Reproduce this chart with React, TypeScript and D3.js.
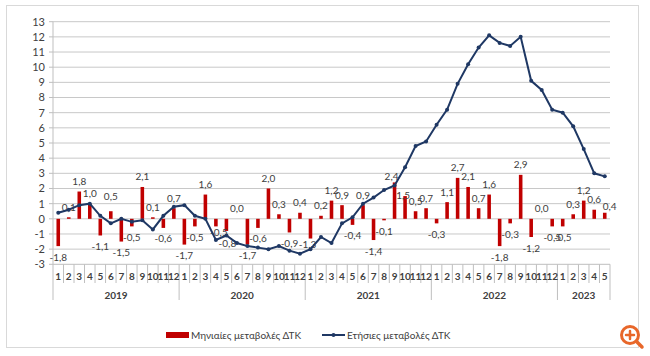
import React from "react";
import * as d3 from "d3";

const years = ["2019", "2020", "2021", "2022", "2023"];
const monthsPerYear = [12, 12, 12, 12, 5];

const monthly = [
  -1.8, 0.1, 1.8, 1.0, -1.1, 0.5, -1.5, -0.5, 2.1, 0.1, -0.6, 0.7,
  -1.7, -0.5, 1.6, -0.5, -0.8, 0.0, -1.7, -0.6, 2.0, 0.3, -0.9, 0.4,
  -1.3, 0.2, 1.2, 0.9, -0.4, 0.9, -1.4, -0.1, 2.4, 1.5, 0.5, 0.7,
  -0.3, 1.1, 2.7, 2.1, 0.7, 1.6, -1.8, -0.3, 2.9, -1.2, 0.0, -0.5,
  -0.5, 0.3, 1.2, 0.6, 0.4,
];

const annual = [
  0.4, 0.6, 0.9, 1.0, 0.2, -0.3, 0.0, -0.2, -0.1, -0.7, 0.2, 0.8,
  0.9, 0.2, 0.0, -1.4, -1.1, -1.6, -1.8, -1.9, -2.0, -1.8, -2.1, -2.3,
  -2.0, -1.2, -1.6, -0.3, 0.1, 1.0, 1.4, 1.9, 2.2, 3.4, 4.8, 5.1,
  6.2, 7.2, 8.9, 10.2, 11.3, 12.1, 11.6, 11.4, 12.0, 9.1, 8.5, 7.2,
  7.0, 6.1, 4.6, 3.0, 2.8,
];

const yTicks = d3.range(-3, 14, 1);

const seriesNames = ["Μηνιαίες μεταβολές ΔΤΚ", "Ετήσιες μεταβολές ΔΤΚ"];

// manual label nudges (as in the original, where a few labels were moved)
const labelNudge: Record<string, [number, number]> = {
  "2019-6": [0, -5],
  "2020-4": [3, -5],
  "2020-5": [1, 2],
  "2021-1": [-3, -5],
  "2021-9": [-3, 4],
  "2021-10": [-2, 9],
  "2023-5": [5, 4],
};

type Cat = { key: string; month: number; year: string };
const cats: Cat[] = [];
years.forEach((y, yi) => {
  for (let m = 1; m <= monthsPerYear[yi]; m++) cats.push({ key: `${y}-${m}`, month: m, year: y });
});

const fmt = (v: number) => d3.format(".1f")(v).replace(".", ",").replace("−", "-");

export default function App() {
  const W = 650, H = 356;
  const left = 53, right = 610, top = 21.7, bottom = 264.3;
  const x = d3.scaleBand<string>().domain(cats.map((c) => c.key)).range([left, right]).padding(0);
  const y = d3.scaleLinear().domain([-3, 13]).range([bottom, top]);
  const bw = x.bandwidth();
  const cx = (k: string) => (x(k) as number) + bw / 2;
  const barW = bw * 0.34;

  const line = d3
    .line<number>()
    .x((_, i) => cx(cats[i].key))
    .y((d) => y(d));

  const font = "Lato, 'Open Sans', sans-serif";
  const textCol = "#404040";

  let acc = 0;
  const yearGroups = years.map((yr, yi) => {
    const start = acc;
    acc += monthsPerYear[yi];
    return { yr, start, end: acc };
  });
  const xAt = (idx: number) => left + idx * bw;

  return (
    <svg width={W} height={H} style={{ position: "absolute", left: 0, top: 0 }}>
      <rect x={0} y={0} width={W} height={H} fill="#fff" />
      <rect x={6.5} y={5.5} width={632} height={342} fill="#fff" stroke="#d9d9d9" strokeWidth={1} />
      {yTicks.map((t) => (
        <line key={t} x1={left} x2={right} y1={y(t)} y2={y(t)} stroke={t === -3 ? "#bfbfbf" : "#c8c8c8"} strokeWidth={1} />
      ))}
      <line x1={left} x2={left} y1={top} y2={300} stroke="#bfbfbf" />
      {yTicks.map((t) => (
        <g key={"yt" + t}>
          <line x1={left - 4} x2={left} y1={y(t)} y2={y(t)} stroke="#bfbfbf" />
          <text x={45} y={y(t)} dy="0.35em" textAnchor="end" fontFamily={font} fontSize={11} fill={textCol}>
            {t}
          </text>
        </g>
      ))}
      {cats.map((c, i) =>
        i === 0 ? null : (
          <line key={"ms" + c.key} x1={xAt(i)} x2={xAt(i)} y1={bottom} y2={c.month === 1 ? 300 : 283} stroke="#bfbfbf" />
        )
      )}
      <line x1={right} x2={right} y1={bottom} y2={300} stroke="#bfbfbf" />
      {cats.map((c) => (
        <text key={"ml" + c.key} x={cx(c.key)} y={280} textAnchor="middle" fontFamily={font} fontSize={10} fontWeight="bold" fill={textCol}>
          {c.month}
        </text>
      ))}
      {yearGroups.map((g) => (
        <text key={g.yr} x={(xAt(g.start) + xAt(g.end)) / 2} y={298.5} textAnchor="middle" fontFamily={font} fontSize={10} fontWeight="bold" fill={textCol}>
          {g.yr}
        </text>
      ))}
      {monthly.map((v, i) => (
        <rect
          key={"b" + i}
          x={cx(cats[i].key) - barW / 2}
          y={Math.min(y(v), y(0))}
          width={barW}
          height={Math.max(Math.abs(y(v) - y(0)), v === 0 ? 0 : 0.5)}
          fill="#c00000"
        />
      ))}
      {monthly.map((v, i) => {
        const k = cats[i].key;
        const [dx, ddy] = labelNudge[k] || [0, 0];
        return (
          <text
            key={"bl" + i}
            x={cx(k) + dx}
            y={(v >= 0 ? y(v) - 10 : y(v) + 11) + ddy}
            dy="0.35em"
            textAnchor="middle"
            fontFamily={font}
            fontSize={10}
            fill={textCol}
          >
            {fmt(v)}
          </text>
        );
      })}
      <path d={line(annual) || ""} fill="none" stroke="#1f3864" strokeWidth={2} />
      {annual.map((v, i) => (
        <circle key={"p" + i} cx={cx(cats[i].key)} cy={y(v)} r={2} fill="#1f3864" />
      ))}
      <rect x={166} y={332} width={23} height={6} fill="#c00000" />
      <text x={191} y={335} dy="0.35em" fontFamily={font} fontSize={10} fill={textCol}>
        {seriesNames[0]}
      </text>
      <line x1={322} x2={345} y1={335} y2={335} stroke="#1f3864" strokeWidth={2} />
      <circle cx={333.5} cy={335} r={2} fill="#1f3864" />
      <text x={347} y={335} dy="0.35em" fontFamily={font} fontSize={10} fill={textCol}>
        {seriesNames[1]}
      </text>
      <g stroke="#e8672a" strokeWidth={3} fill="none" strokeLinecap="round">
        <circle cx={630} cy={335} r={8.5} fill="#fff" />
        <line x1={636.5} y1={341.5} x2={642} y2={347} strokeWidth={3.5} />
        <line x1={626} x2={634} y1={335} y2={335} strokeWidth={2.5} />
        <line x1={630} x2={630} y1={331} y2={339} strokeWidth={2.5} />
      </g>
    </svg>
  );
}
